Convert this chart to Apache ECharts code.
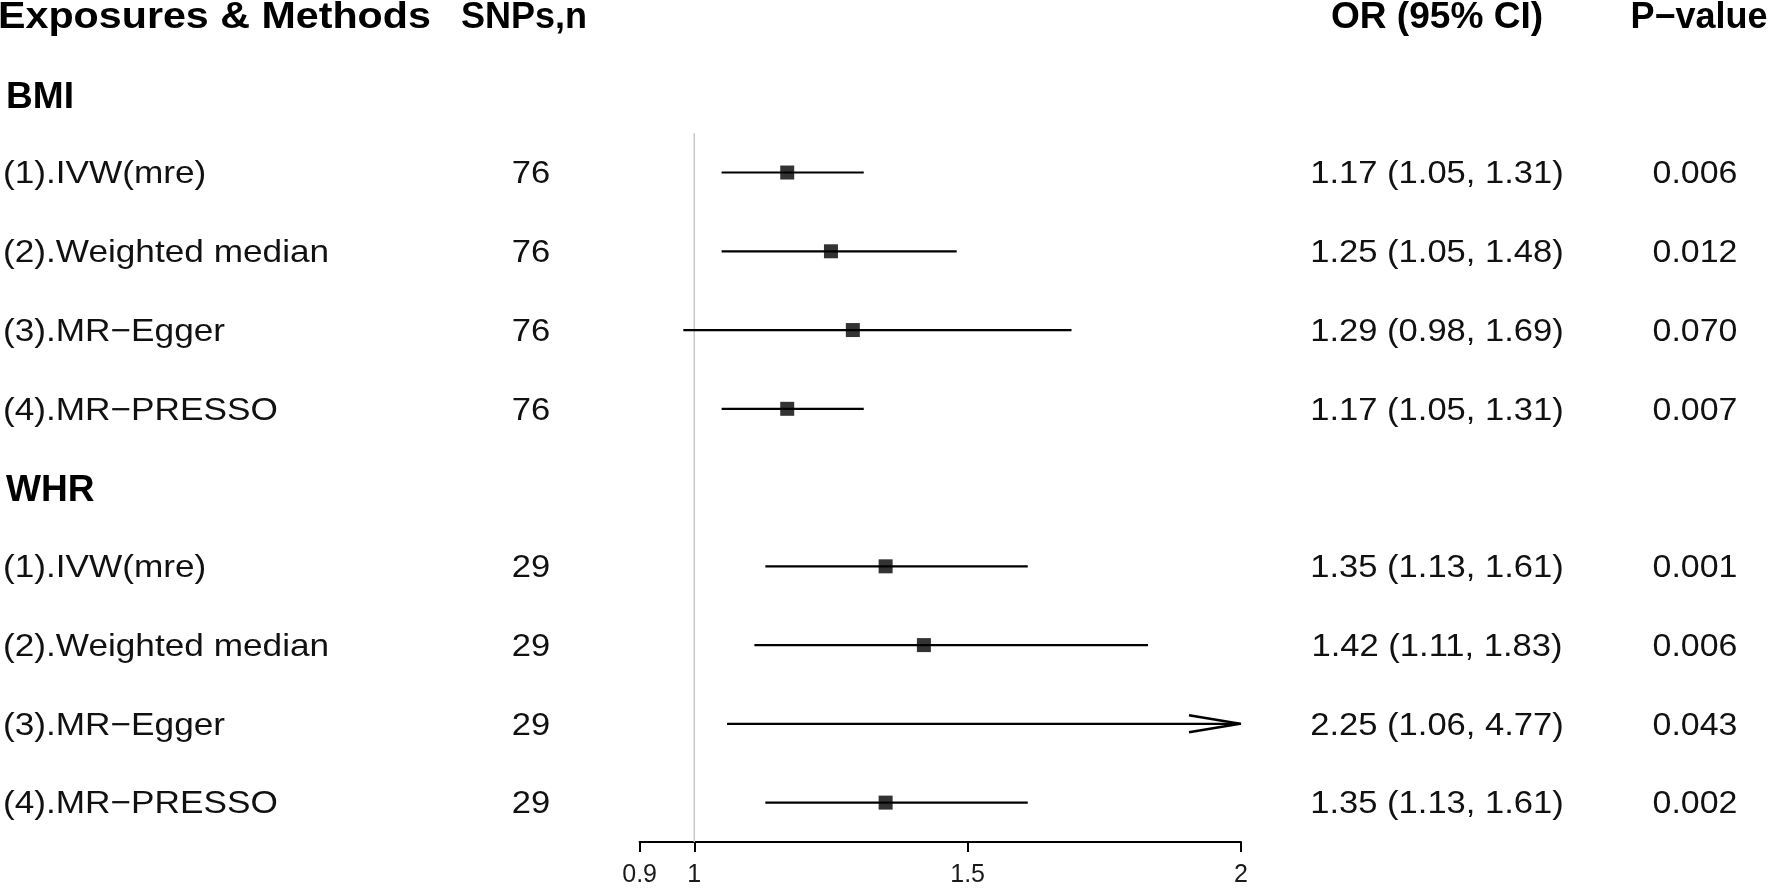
<!DOCTYPE html>
<html>
<head>
<meta charset="utf-8">
<script src="https://cdn.jsdelivr.net/npm/echarts@6/dist/echarts.min.js"></script>
<style>
html,body{margin:0;padding:0;background:#fff;}
#chart{width:1770px;height:888px;}
</style>
</head>
<body>
<div id="chart"></div>
<script>
// ---- data ----
const headers = ['Exposures & Methods', 'SNPs,n', 'OR (95% CI)', 'P\u2212value'];
const groups = ['BMI', 'WHR'];
const methods = ['(1).IVW(mre)', '(2).Weighted median', '(3).MR\u2212Egger', '(4).MR\u2212PRESSO'];
const snps = [76, 76, 76, 76, 29, 29, 29, 29];
const orVals = [1.17, 1.25, 1.29, 1.17, 1.35, 1.42, 2.25, 1.35];
const loVals = [1.05, 1.05, 0.98, 1.05, 1.13, 1.11, 1.06, 1.13];
const hiVals = [1.31, 1.48, 1.69, 1.31, 1.61, 1.83, 4.77, 1.61];
const pVals = ['0.006', '0.012', '0.070', '0.007', '0.001', '0.006', '0.043', '0.002'];
const xTicks = [0.9, 1, 1.5, 2];
const refValue = 1;

// ---- rows ----
const groupRows = groups.map((g, i) => ({ name: g, row: 1 + i * (methods.length + 1) }));
const itemRows = [];
groups.forEach((g, gi) => {
  methods.forEach((m, mi) => {
    const k = gi * methods.length + mi;
    itemRows.push({
      row: 2 + gi * (methods.length + 1) + mi,
      label: m,
      snp: String(snps[k]),
      or: orVals[k], lo: loVals[k], hi: hiVals[k],
      orText: orVals[k].toFixed(2) + ' (' + loVals[k].toFixed(2) + ', ' + hiVals[k].toFixed(2) + ')',
      p: pVals[k]
    });
  });
});
const lastRow = itemRows[itemRows.length - 1].row;
const X_MIN = xTicks[0], X_MAX = xTicks[xTicks.length - 1];

const FONT = '"Liberation Sans", Arial, Helvetica, sans-serif';

function textEl(px, py, str, opts) {
  return {
    type: 'text',
    x: px, y: py,
    scaleX: opts.scaleX || 1,
    silent: true,
    style: {
      text: str, x: 0, y: 0,
      fill: opts.color || '#000',
      font: (opts.bold ? 'bold ' : '') + opts.size + 'px ' + FONT,
      align: opts.align || 'left', textAlign: opts.align || 'left',
      verticalAlign: 'middle', textVerticalAlign: 'middle'
    }
  };
}

const chart = echarts.init(document.getElementById('chart'), null, { renderer: 'canvas' });

const option = {
  animation: false,
  backgroundColor: '#fff',
  grid: { left: 639.6, right: 529, top: 15, height: 829.5, containLabel: false },
  xAxis: {
    type: 'value', min: X_MIN, max: X_MAX,
    splitLine: { show: false },
    axisLine: { show: true, onZero: false, lineStyle: { color: '#000', width: 2 } },
    axisTick: { show: true, customValues: xTicks, length: 10, lineStyle: { color: '#000', width: 2 } },
    axisLabel: { show: true, customValues: xTicks, fontSize: 25, color: '#1a1a1a', fontFamily: FONT, margin: 21,
      formatter: v => String(v) }
  },
  yAxis: { type: 'value', min: 0, max: lastRow + 0.5, inverse: true, show: false },
  series: [
    {
      type: 'line', data: [[refValue, 1.5], [refValue, lastRow + 0.5]],
      symbol: 'none', lineStyle: { color: '#c8c8c8', width: 1.5 }, silent: true, z: 1
    },
    {
      type: 'custom', z: 2, clip: false,
      data: itemRows.map(r => [r.lo, r.row, r.hi]),
      renderItem: (params, api) => {
        const lo = api.value(0), row = api.value(1), hi = api.value(2);
        const p1 = api.coord([Math.max(lo, X_MIN), row]);
        const p2 = api.coord([Math.min(hi, X_MAX), row]);
        const children = [{
          type: 'line', shape: { x1: p1[0], y1: p1[1], x2: p2[0], y2: p2[1] },
          style: { stroke: '#000', lineWidth: 2.2 }
        }];
        if (hi > X_MAX) {
          children.push({
            type: 'polyline',
            shape: { points: [[p2[0] - 52, p2[1] - 8.5], [p2[0] - 1, p2[1]], [p2[0] - 52, p2[1] + 8.5]] },
            style: { stroke: '#000', lineWidth: 2.5, fill: null, lineJoin: 'round' }
          });
        }
        return { type: 'group', children };
      }
    },
    {
      type: 'scatter', z: 3, clip: true,
      symbol: 'rect', symbolSize: 14,
      itemStyle: { color: '#000' },
      data: itemRows.map(r => [r.or, r.row])
    },
    // headers
    {
      type: 'custom', clip: false, z: 5,
      data: headers.map((h, i) => [i, 0]),
      renderItem: (params, api) => {
        const i = api.value(0);
        const y = api.coord([1, api.value(1)])[1] + 3;
        const cfg = [
          { x: -2, align: 'left', scaleX: 1.145 },
          { x: 461, align: 'left', scaleX: 1.0 },
          { x: 1437, align: 'center', scaleX: 1.03 },
          { x: 1699, align: 'center', scaleX: 1.0 }
        ][i];
        return textEl(cfg.x, y, headers[i], { bold: true, size: 36, align: cfg.align, scaleX: cfg.scaleX });
      }
    },
    // group labels
    {
      type: 'custom', clip: false, z: 5,
      data: groupRows.map((g, i) => [i, g.row]),
      renderItem: (params, api) => {
        const i = api.value(0);
        const y = api.coord([1, api.value(1)])[1] + 4;
        return textEl(6, y, groupRows[i].name, { bold: true, size: 36, scaleX: 1.03 });
      }
    },
    // row texts
    {
      type: 'custom', clip: false, z: 5,
      data: itemRows.map((r, i) => [i, r.row]),
      renderItem: (params, api) => {
        const i = api.value(0);
        const r = itemRows[i];
        const y = api.coord([1, api.value(1)])[1] + 2;
        return {
          type: 'group',
          children: [
            textEl(3, y, r.label, { size: 32, scaleX: 1.10, color: '#111' }),
            textEl(531, y, r.snp, { size: 32, align: 'center', scaleX: 1.08, color: '#111' }),
            textEl(1437, y, r.orText, { size: 32, align: 'center', scaleX: 1.08, color: '#111' }),
            textEl(1695, y, r.p, { size: 32, align: 'center', scaleX: 1.06, color: '#111' })
          ]
        };
      }
    }
  ]
};
chart.setOption(option);
</script>
</body>
</html>
